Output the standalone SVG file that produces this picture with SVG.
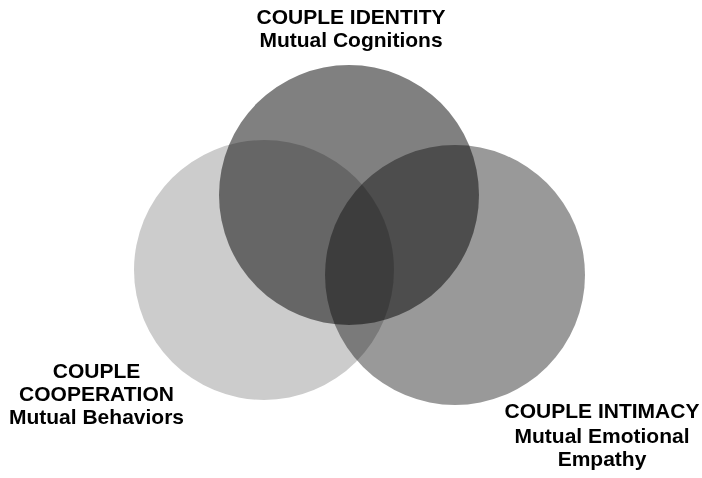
<svg xmlns="http://www.w3.org/2000/svg" width="702" height="478" viewBox="0 0 702 478">
<style>
.c{mix-blend-mode:multiply}
text{font-family:"Liberation Sans",Arial,sans-serif;font-weight:bold;font-size:21px;fill:#000;text-anchor:middle}
</style>
<rect width="702" height="478" fill="#fff"/>
<g style="isolation:isolate">
<g id="cooperation"><circle class="c" cx="264" cy="270" r="130" fill="#cccccc"/></g>
<g id="intimacy"><circle class="c" cx="455" cy="275" r="130" fill="#999999"/></g>
<g id="identity"><circle class="c" cx="349" cy="195" r="130" fill="#808080"/></g>
</g>
<g id="connectors"></g>
<g id="label-identity">
<text x="351" y="23.5">COUPLE IDENTITY</text>
<text x="351" y="47">Mutual Cognitions</text>
</g>
<g id="label-cooperation">
<text x="96.5" y="377.5">COUPLE</text>
<text x="96.5" y="400.5">COOPERATION</text>
<text x="96.5" y="423.5">Mutual Behaviors</text>
</g>
<g id="label-intimacy">
<text x="602" y="418">COUPLE INTIMACY</text>
<text x="602" y="443">Mutual Emotional</text>
<text x="602" y="466">Empathy</text>
</g>
</svg>
